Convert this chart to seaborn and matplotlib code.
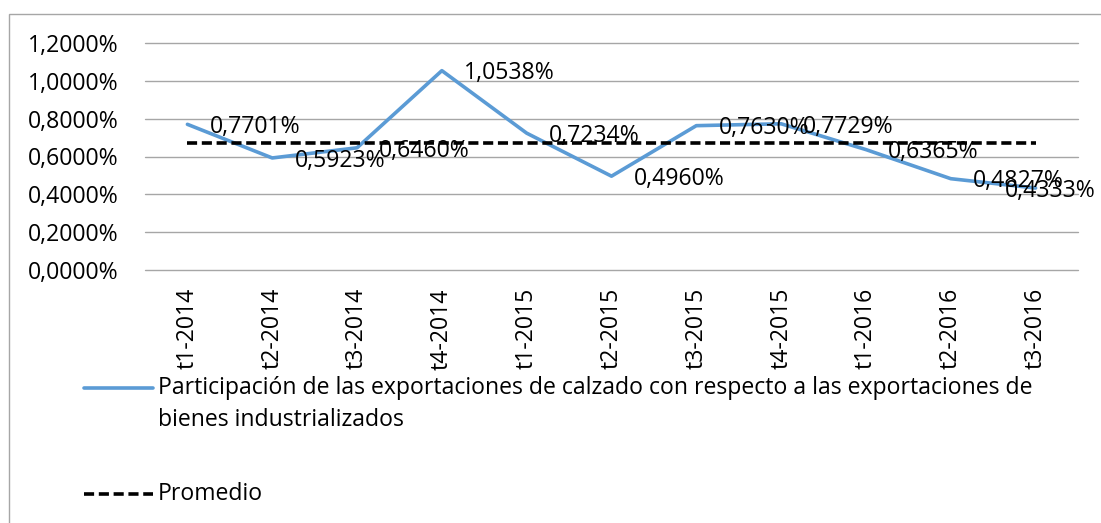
import matplotlib
matplotlib.use("Agg")
import matplotlib.pyplot as plt
from matplotlib.lines import Line2D
from matplotlib.patches import Rectangle
from matplotlib.ticker import FuncFormatter, FixedLocator
import seaborn as sns
import pandas as pd

categories = ["t1-2014", "t2-2014", "t3-2014", "t4-2014", "t1-2015", "t2-2015",
              "t3-2015", "t4-2015", "t1-2016", "t2-2016", "t3-2016"]
participacion = [0.7701, 0.5923, 0.6460, 1.0538, 0.7234, 0.4960,
                 0.7630, 0.7729, 0.6365, 0.4827, 0.4333]
promedio = [0.67] * 11
yticks = [0.0, 0.2, 0.4, 0.6, 0.8, 1.0, 1.2]

serie1 = "Participación de las exportaciones de calzado con respecto a las exportaciones de\nbienes industrializados"
serie2 = "Promedio"

sns.set_theme(style="white")
plt.rcParams["font.family"] = ["Open Sans", "DejaVu Sans"]
plt.rcParams["text.color"] = "black"
plt.rcParams["xtick.color"] = "black"
plt.rcParams["ytick.color"] = "black"
FS = 16.6

df = pd.DataFrame({"cat": categories, "x": range(len(categories)),
                   "part": participacion, "prom": promedio})

W, H = 1101, 523
fig = plt.figure(figsize=(W / 100, H / 100), dpi=100)
ax = fig.add_axes([145 / W, 1 - 270 / H, 933 / W, 227 / H])

blue = "#5B9BD5"
dash = (0, (2.8, 1.3))
sns.lineplot(data=df, x="x", y="part", ax=ax, color=blue, lw=2.6, legend=False)
sns.lineplot(data=df, x="x", y="prom", ax=ax, color="black", lw=2.6,
             linestyle=dash, legend=False)

ax.set_xlim(-0.5, len(categories) - 0.5)
ax.set_ylim(0, 1.2)
ax.yaxis.set_major_locator(FixedLocator(yticks))
ax.yaxis.set_major_formatter(FuncFormatter(lambda v, p: f"{v:.4f}%".replace(".", ",")))
ax.set_xticks(df["x"])
ax.set_xticklabels(categories, rotation=90, fontsize=FS)
ax.tick_params(axis="y", labelsize=FS, pad=19, length=0)
ax.tick_params(axis="x", pad=13, length=0)
ax.grid(axis="y", color="#A6A6A6", lw=1)
for gl in ax.get_ygridlines():
    gl.set_clip_on(False)
ax.set_axisbelow(True)
for s in ax.spines.values():
    s.set_visible(False)
ax.set_xlabel("")
ax.set_ylabel("")

# data labels
n = len(categories)
for i, v in enumerate(participacion):
    txt = f"{v:.4f}%".replace(".", ",")
    dx = 16 if i < n - 1 else -22
    ax.annotate(txt, (i, v), xytext=(dx, -2), textcoords="offset points",
                ha="left", va="center", fontsize=FS, color="black")

# legend drawn in figure coordinates
def fx(px):
    return px / W

def fy(py):
    return 1 - py / H

fig.add_artist(Line2D([fx(84), fx(153)], [fy(388), fy(388)], color=blue, lw=2.6,
                      transform=fig.transFigure))
fig.add_artist(Line2D([fx(84), fx(153)], [fy(494), fy(494)], color="black", lw=2.6,
                      linestyle=dash, transform=fig.transFigure))
fig.text(fx(158), fy(388), serie1.split("\n")[0], fontsize=FS, va="center", ha="left")
fig.text(fx(158), fy(420), serie1.split("\n")[1], fontsize=FS, va="center", ha="left")
fig.text(fx(158), fy(494), serie2, fontsize=FS, va="center", ha="left")

# chart border
fig.add_artist(Rectangle((fx(9), -0.2), 1.5, fy(14) + 0.2, transform=fig.transFigure,
                         fill=False, edgecolor="#A6A6A6", lw=1))

fig.savefig("out.png", dpi=100)
